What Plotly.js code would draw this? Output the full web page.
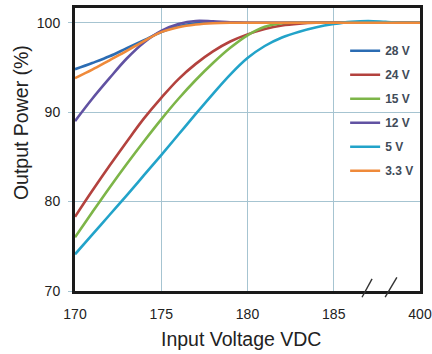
<!DOCTYPE html>
<html>
<head>
<meta charset="utf-8">
<script src="https://cdn.plot.ly/plotly-3.0.1.min.js"></script>
<style>html,body{margin:0;padding:0;background:#fff;}#chart{width:432px;height:354px;}</style>
</head>
<body>
<div id="chart"></div>
<script>
// Input voltage (VDC); the last position is labelled 400 (axis break)
const inputVoltage = [170,171,172,173,174,175,176,177,178,179,180,181,182,183,184,185,186,187,188,189,190];
const tickValues = [170,175,180,185,190];
const tickLabels = ['170','175','180','185','400'];

const seriesNames = ['28 V','24 V','15 V','12 V','5 V','3.3 V'];
const power28V  = [94.8,95.5,96.25,97.15,98.05,98.95,99.6,99.95,100.05,100.05,100,100,100,100,100,100,100,100,100,100,100];
const power24V  = [78.3,81.2,84.0,86.7,89.3,91.6,93.7,95.4,96.8,97.9,98.7,99.3,99.7,99.9,100,100,100,100,100,100,100];
const power15V  = [76.0,78.8,81.55,84.2,86.75,89.2,91.5,93.6,95.5,97.2,98.6,99.55,99.95,100,100,100,100,100,100,100,100];
const power12V  = [89.0,91.5,93.8,96.0,97.8,99.1,99.85,100.2,100.15,100.05,100,100,100,100,100,100,100,100,100,100,100];
const power5V   = [74.1,76.3,78.5,80.7,82.95,85.2,87.5,89.8,92.05,94.2,96.05,97.4,98.35,99.0,99.5,99.85,100.1,100.2,100.1,100.0,100];
const power3V3  = [93.8,94.75,95.8,96.85,97.95,98.95,99.5,99.8,99.95,100,100,100,100,100,100,100,100,100,100,100,100];

const seriesValues = [power28V, power24V, power15V, power12V, power5V, power3V3];
const seriesColors = ['#2b6cb3','#b3423e','#7db548','#6152a2','#22a3c9','#ef8a3a'];

const traces = seriesNames.map((name, i) => ({
  x: inputVoltage,
  y: seriesValues[i],
  name: name,
  legendgroup: 'g' + i,
  type: 'scatter',
  mode: 'lines',
  line: {color: seriesColors[i], width: 2.6, shape: 'spline', smoothing: 1}
}));

const gridColor = '#a6c4d1';
const layout = {
  width: 432, height: 354,
  margin: {l: 74.5, r: 12, t: 8, b: 63.3, pad: 0},
  paper_bgcolor: '#ffffff',
  plot_bgcolor: '#ffffff',
  font: {family: 'Liberation Sans, Arial, sans-serif', color: '#222222', size: 14},
  showlegend: true,
  legend: {
    x: 0.783, xanchor: 'left',
    y: 0.9, yanchor: 'top',
    bgcolor: 'rgba(0,0,0,0)',
    borderwidth: 0,
    tracegroupgap: 5,
    font: {family: 'Liberation Sans, Arial, sans-serif', size: 12, color: '#414b58', weight: 'bold'}
  },
  xaxis: {
    range: [170, 190],
    tickvals: tickValues,
    ticktext: tickLabels,
    showgrid: true, gridcolor: gridColor, gridwidth: 1,
    zeroline: false,
    showline: true, mirror: true, linecolor: '#1a1a1a', linewidth: 3,
    ticks: '',
    ticklabelstandoff: 8,
    tickfont: {size: 14, color: '#222222'}
  },
  yaxis: {
    range: [70, 101.65],
    tickvals: [70, 80, 90, 100],
    showgrid: true, gridcolor: gridColor, gridwidth: 1,
    zeroline: false,
    showline: true, mirror: true, linecolor: '#1a1a1a', linewidth: 3,
    ticks: 'outside', ticklen: 4, tickcolor: gridColor, tickwidth: 1,
    ticklabelstandoff: 5,
    tickfont: {size: 14, color: '#222222'}
  },
  annotations: [
    {text: 'Output Power (%)', xref: 'paper', yref: 'paper', x: -0.158, y: 0.595,
     xanchor: 'center', yanchor: 'middle', textangle: -90, showarrow: false,
     font: {size: 19.5, color: '#222222'}},
    {text: 'Input Voltage VDC', xref: 'paper', yref: 'paper', x: 0.48, y: -0.171,
     xanchor: 'center', yanchor: 'middle', showarrow: false,
     font: {size: 19.5, color: '#222222'}}
  ],
  shapes: [
    {type: 'line', xref: 'paper', yref: 'paper', x0: 0.832, y0: -0.022, x1: 0.861, y1: 0.043,
     line: {color: '#333333', width: 1.4}},
    {type: 'line', xref: 'paper', yref: 'paper', x0: 0.899, y0: -0.022, x1: 0.933, y1: 0.048,
     line: {color: '#333333', width: 1.4}}
  ]
};

Plotly.newPlot('chart', traces, layout, {displayModeBar: false, staticPlot: true});
</script>
</body>
</html>
